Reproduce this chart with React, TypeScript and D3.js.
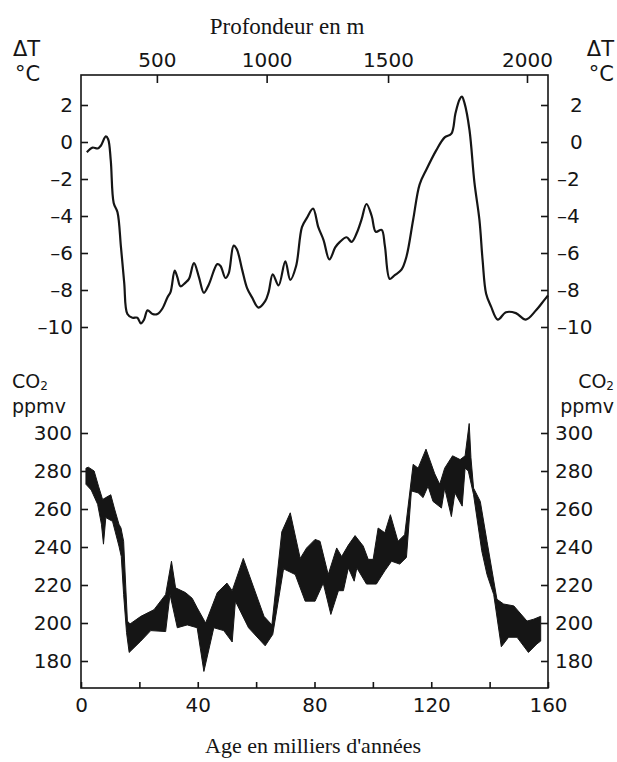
import React, { useEffect, useRef } from "react";
import * as d3 from "d3";

const W = 617;
const H = 762;

// ΔT curve, age in kyr
const tempAge = [2.0, 3, 4, 5.7, 6.8, 8.5, 9.3, 10.2, 11.2, 12.5, 13.7, 14.8, 15.9, 17.6, 19.3, 20.5, 21.6, 22.8, 24.5, 26.2, 27.9, 29.6, 30.7, 32.1, 33.0, 34.1, 35.8, 37, 38.7, 40.4, 42.1, 43.8, 46.7, 47.8, 49.5, 50.6, 52.3, 53.4, 55.2, 56.9, 58.6, 60.8, 63.1, 64.3, 65.7, 67.7, 70, 71.7, 73.7, 75.7, 77.4, 79.5, 81.3, 83.1, 85.1, 87.1, 88.7, 91.0, 92.7, 94.4, 96.1, 97.8, 99.6, 101, 103, 104.1, 105.8, 107.5, 109.8, 111.5, 113.8, 116, 118.3, 121.7, 124.6, 126.9, 128.3, 129.7, 130.5, 131.4, 133.1, 134.8, 136.5, 137.6, 138.8, 140.5, 142.8, 145.6, 149, 152.4, 155.9, 158.7, 160];
const tempVal = [-0.55, -0.4, -0.3, -0.35, -0.2, 0.3, 0.15, -1.0, -3.3, -3.8, -5.7, -7.6, -9.3, -9.5, -9.5, -9.8, -9.6, -9.1, -9.3, -9.3, -9.0, -8.4, -8.1, -6.95, -7.3, -7.8, -7.6, -7.4, -6.55, -7.3, -8.15, -7.7, -6.6, -6.7, -7.35, -7.1, -5.6, -5.8, -6.9, -7.9, -8.4, -8.95, -8.6, -8.1, -7.15, -7.75, -6.45, -7.45, -6.7, -4.6, -4.1, -3.6, -4.6, -5.3, -6.35, -5.7, -5.4, -5.15, -5.4, -4.95, -4.2, -3.35, -4.0, -4.85, -4.75, -5.6, -7.4, -7.2, -6.9, -6.2, -4.2, -2.3, -1.5, -0.45, 0.25, 0.45, 1.55, 2.3, 2.45, 2.1, 0.65, -2.2, -4.2, -6.4, -8.2, -8.9, -9.6, -9.2, -9.25, -9.6, -9.1, -8.55, -8.3];

// CO2 envelope, upper edge
const co2UpAge = [1.7, 2.5, 4.5, 6.0, 7.4, 8.5, 10.2, 11.5, 13.0, 13.7, 14.6, 15.3, 15.9, 16.8, 20.5, 25, 29, 31, 32.4, 35.8, 38.1, 39.8, 42.7, 46.7, 50, 51.8, 55.6, 59.2, 62.7, 65.4, 68.8, 71.7, 75.1, 77.3, 80.2, 81.9, 84.7, 87.6, 89.3, 91.6, 93.9, 96.7, 98.4, 100.1, 101.8, 104.1, 106, 108.6, 110.9, 113.8, 115.5, 118.2, 121.2, 122.9, 124.6, 127.3, 129.9, 131.6, 133, 133.6, 134.5, 136.8, 139.1, 142.5, 144.8, 148.3, 152.8, 155.1, 157.5];
const co2Up = [281.5, 282, 280, 272, 265, 266, 267.5, 260, 252, 250, 243, 220, 201, 199.5, 203.5, 207, 215, 232.5, 218.5, 216, 213, 208, 200, 216, 221, 217, 234, 218.5, 203.5, 199, 248, 258, 234, 239.5, 244, 243, 225.5, 239.5, 235, 241, 246, 240.5, 233.5, 233.5, 250, 247.5, 257, 243, 246.5, 283.5, 281.5, 291.5, 278.5, 273, 281.5, 288, 286, 288, 305, 287, 271, 264, 243, 212.5, 210, 209, 201, 202, 203.5];

// CO2 envelope, lower edge
const co2LoAge = [1.7, 3.5, 5.7, 7.0, 7.7, 8.5, 10.8, 13, 13.8, 14.6, 15.6, 16.5, 20.5, 23.9, 29, 30.5, 33, 36.4, 39.8, 42.1, 45.5, 48.9, 51.8, 52.9, 57.4, 63.1, 65.7, 69.4, 73.4, 76.8, 80.2, 83, 85.6, 88.2, 89.9, 91.6, 93.6, 94.5, 97.8, 101.2, 104.1, 106.4, 109.2, 111.5, 113.2, 115.5, 117.2, 118.9, 120.6, 123.5, 124.6, 126.9, 128.1, 130.6, 131.6, 132.7, 134.5, 137.3, 139.1, 141.4, 144, 146.5, 149.4, 153.3, 156.2, 157.5];
const co2Lo = [273, 270, 262.5, 252, 241.5, 255.5, 253.5, 240.5, 235, 215, 195, 184.5, 190.5, 196, 195.5, 215, 197.5, 199, 197.5, 174.5, 197.5, 196, 190, 211.5, 197.5, 188, 194, 228.5, 225.5, 211.5, 211.5, 221, 204.5, 217, 217, 229, 222, 229, 220.5, 220.5, 227.5, 232.5, 231, 234.5, 269.5, 268.5, 266, 272, 264, 260.5, 271, 256, 268.5, 261.5, 281.5, 280, 267.5, 238, 225.5, 215, 187.5, 192.5, 192.5, 184.5, 189, 190.5];

const ageTicks = [0, 20, 40, 60, 80, 100, 120, 140, 160];
const ageLabels = [0, 40, 80, 120, 160];
const depthTicks = [500, 1000, 1500, 2000];
const depthAges = [26.0, 63.6, 105.2, 152.8];
const tempTicks = [2, 0, -2, -4, -6, -8, -10];
const co2Ticks = [300, 280, 260, 240, 220, 200, 180];

const INK = "#151515";
const SANS = "'DejaVu Sans', Arial, sans-serif";
const SERIF = "'Liberation Serif', 'Times New Roman', serif";

const fmt = (d: number) => (d < 0 ? "\u2013" + Math.abs(d) : String(d));

const App = () => {
  const ref = useRef<SVGSVGElement>(null);

  useEffect(() => {
    const svg = d3.select(ref.current);
    svg.selectAll("*").remove();

    const left = 81, right = 548, top = 75, bottom = 688;
    const x = d3.scaleLinear().domain([0, 160]).range([left, right]);
    const yT = d3.scaleLinear().domain([-10, 2]).range([327, 105]);
    const yC = d3.scaleLinear().domain([180, 300]).range([661, 433]);
    const depth = d3.scaleLinear().domain(depthTicks).range(depthAges.map(a => x(a)));

    // CO2 band
    const up = co2UpAge.map((a, i) => [a, co2Up[i]] as [number, number]);
    const lo = co2LoAge.map((a, i) => [a, co2Lo[i]] as [number, number]);
    const band = d3.line<[number, number]>().x(d => x(d[0])).y(d => yC(d[1]));
    svg.append("path")
      .attr("d", band(up.concat(lo.slice().reverse())) + "Z")
      .attr("fill", INK)
      .attr("stroke", INK)
      .attr("stroke-width", 1)
      .attr("stroke-linejoin", "miter");

    // temperature curve
    const temp = tempAge.map((a, i) => [a, tempVal[i]] as [number, number]);
    const line = d3.line<[number, number]>()
      .x(d => x(d[0]))
      .y(d => yT(d[1]))
      .curve(d3.curveCatmullRom.alpha(0.5));
    svg.append("path")
      .attr("d", line(temp))
      .attr("fill", "none")
      .attr("stroke", INK)
      .attr("stroke-width", 2.2);

    // frame
    svg.append("rect")
      .attr("x", left).attr("y", top)
      .attr("width", right - left).attr("height", bottom - top)
      .attr("fill", "none").attr("stroke", INK).attr("stroke-width", 1.6);

    const styleAxis = (g: any) => {
      g.select(".domain").remove();
      g.selectAll("line").attr("stroke", INK).attr("stroke-width", 1.6);
      g.selectAll("text").attr("fill", INK).attr("font-family", SANS).attr("font-size", 20);
    };

    svg.append("g")
      .attr("transform", `translate(0,${bottom})`)
      .call(d3.axisBottom(x).tickValues(ageTicks).tickSize(-6).tickPadding(10)
        .tickFormat((d: any) => (ageLabels.includes(d) ? String(d) : "")))
      .call(styleAxis);

    svg.append("g")
      .attr("transform", `translate(0,${top})`)
      .call(d3.axisTop(depth).tickValues(depthTicks).tickSize(-8).tickPadding(8)
        .tickFormat((d: any) => String(d)))
      .call(styleAxis);

    svg.append("g")
      .attr("transform", `translate(${left},0)`)
      .call(d3.axisLeft(yT).tickValues(tempTicks).tickSize(-7).tickPadding(8).tickFormat((d: any) => fmt(d)))
      .call(styleAxis);

    svg.append("g")
      .attr("transform", `translate(${right},0)`)
      .call(d3.axisRight(yT).tickValues(tempTicks).tickSize(-7).tickPadding(9).tickFormat((d: any) => fmt(d)))
      .call(styleAxis)
      .selectAll("text")
      .attr("x", (d: any) => (d < 0 ? 9 : 22));

    svg.append("g")
      .attr("transform", `translate(${left},0)`)
      .call(d3.axisLeft(yC).tickValues(co2Ticks).tickSize(-7).tickPadding(9).tickFormat((d: any) => String(d)))
      .call(styleAxis);

    svg.append("g")
      .attr("transform", `translate(${right},0)`)
      .call(d3.axisRight(yC).tickValues(co2Ticks).tickSize(-7).tickPadding(7).tickFormat((d: any) => String(d)))
      .call(styleAxis);

    // unit labels
    const label = (tx: number, ty: number, anchor: string, s: string, size = 20) =>
      svg.append("text")
        .attr("x", tx).attr("y", ty)
        .attr("text-anchor", anchor)
        .attr("font-family", SANS).attr("font-size", size).attr("fill", INK)
        .text(s);

    label(13, 56, "start", "\u0394T", 21);
    label(15, 81, "start", "\u00b0C", 21);
    label(614, 56, "end", "\u0394T", 21);
    label(614, 81, "end", "\u00b0C", 21);

    const co2 = (tx: number, anchor: string) => {
      const t = svg.append("text")
        .attr("x", tx).attr("y", 388)
        .attr("text-anchor", anchor)
        .attr("font-family", SANS).attr("font-size", 19).attr("fill", INK);
      t.append("tspan").text("CO");
      t.append("tspan").attr("font-size", 12).attr("dy", 2).text("2");
    };
    co2(12, "start");
    co2(614, "end");
    label(12, 413, "start", "ppmv", 19);
    label(614, 413, "end", "ppmv", 19);

    // titles
    svg.append("text")
      .attr("x", 287).attr("y", 34)
      .attr("text-anchor", "middle")
      .attr("font-family", SERIF).attr("font-size", 23).attr("fill", INK)
      .text("Profondeur en m");

    svg.append("text")
      .attr("x", 313).attr("y", 753)
      .attr("text-anchor", "middle")
      .attr("font-family", SERIF).attr("font-size", 22).attr("fill", INK)
      .text("Age en milliers d'ann\u00e9es");
  }, []);

  return (
    <div style={{ position: "absolute", left: 0, top: 0 }}>
      <svg ref={ref} width={W} height={H} style={{ display: "block", background: "#fff" }} />
    </div>
  );
};

export default App;
